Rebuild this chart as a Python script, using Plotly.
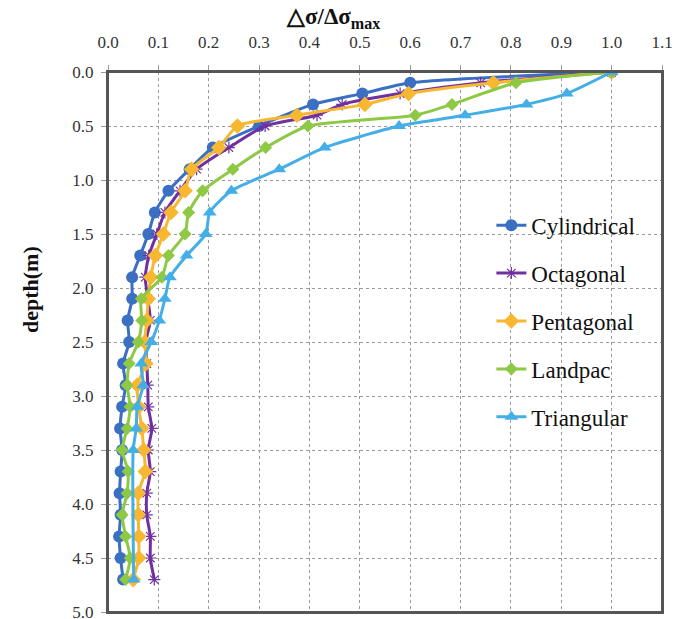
import plotly.graph_objects as go

depth = [0.0, 0.1, 0.2, 0.3, 0.4, 0.5, 0.7, 0.9, 1.1, 1.3, 1.5, 1.7, 1.9, 2.1,
         2.3, 2.5, 2.7, 2.9, 3.1, 3.3, 3.5, 3.7, 3.9, 4.1, 4.3, 4.5, 4.7]

cylindrical = [1.0, 0.60, 0.505, 0.407, None, 0.30, 0.208, 0.162, 0.12, 0.093, 0.08,
               0.064, 0.048, 0.048, 0.039, 0.042, 0.030, 0.035, 0.028, 0.024, 0.028,
               0.025, 0.023, 0.025, 0.022, 0.025, 0.030]
octagonal = [1.0, 0.74, 0.58, 0.465, 0.415, 0.312, 0.24, 0.176, 0.143, 0.113, 0.097,
             0.081, 0.074, 0.079, 0.084, 0.075, 0.077, 0.079, 0.080, 0.087, 0.080,
             0.084, 0.077, 0.077, 0.084, 0.084, 0.092]
pentagonal = [1.0, 0.765, 0.597, 0.51, 0.375, 0.257, 0.22, 0.166, 0.153, 0.125, 0.11,
              0.094, 0.085, 0.08, 0.077, 0.073, 0.075, 0.058, 0.061, 0.067, 0.071,
              0.074, 0.060, 0.060, 0.061, 0.061, 0.050]
landpac = [1.0, 0.81, None, 0.683, 0.61, 0.397, 0.313, 0.248, 0.188, 0.16, 0.153,
           0.12, 0.107, 0.066, 0.067, 0.06, 0.042, 0.038, 0.044, 0.038, 0.028,
           0.040, 0.038, 0.028, 0.035, 0.044, 0.035]
triangular = [1.0, None, 0.911, 0.831, 0.709, 0.578, 0.43, 0.34, 0.245, 0.202, 0.194,
              0.156, 0.123, 0.113, 0.102, 0.086, 0.066, 0.07, 0.058, 0.056, 0.05,
              None, None, None, None, None, 0.051]

x_ticks = [0.0, 0.1, 0.2, 0.3, 0.4, 0.5, 0.6, 0.7, 0.8, 0.9, 1.0, 1.1]
y_ticks = [0.0, 0.5, 1.0, 1.5, 2.0, 2.5, 3.0, 3.5, 4.0, 4.5, 5.0]

x_title = "<b>△σ/Δσ<sub>max</sub></b>"
y_title = "<b>depth(m)</b>"

series = [
    ("Cylindrical", cylindrical, "#3a6fc2", dict(symbol="circle", size=12, color="#3a6fc2")),
    ("Octagonal", octagonal, "#7030a0", dict(symbol="asterisk-open", size=10,
                                              line=dict(color="#a98bd6", width=1.2))),
    ("Pentagonal", pentagonal, "#f7b731", dict(symbol="diamond", size=12, color="#f7b731")),
    ("Landpac", landpac, "#8dc944", dict(symbol="diamond", size=10, color="#8dc944")),
    ("Triangular", triangular, "#44aee6", dict(symbol="triangle-up", size=12, color="#44aee6")),
]

fig = go.Figure()
for name, vals, col, mk in series:
    fig.add_trace(go.Scatter(
        x=vals, y=depth, name=name, mode="lines+markers",
        line=dict(color=col, width=3, shape="spline", smoothing=0.6),
        marker=mk, connectgaps=True, legendgroup=name,
    ))

serif = "Liberation Serif"
fig.update_layout(
    width=684, height=619,
    margin=dict(l=108, r=22, t=72, b=7, autoexpand=False),
    paper_bgcolor="white", plot_bgcolor="white",
    font=dict(family=serif, color="#222"),
    showlegend=True,
    legend=dict(x=0.692, y=0.756, xanchor="left", yanchor="top",
                bgcolor="rgba(0,0,0,0)", font=dict(family=serif, size=23, color="#111"),
                tracegroupgap=15),
    xaxis=dict(
        side="top", range=[0, 1.1], tickvals=x_ticks, tickformat=".1f",
        showgrid=True, gridcolor="#9a9a9a", griddash="dot", gridwidth=1,
        showline=True, linecolor="#555", linewidth=2, mirror=True,
        ticks="outside", ticklen=5, tickcolor="#999",
        tickfont=dict(family=serif, size=17, color="#333"),
        ticklabelstandoff=10, zeroline=False, ticklabeloverflow="allow", automargin=False,
    ),
    yaxis=dict(
        range=[5.0, 0], tickvals=y_ticks, tickformat=".1f",
        showgrid=True, gridcolor="#9a9a9a", griddash="dot", gridwidth=1,
        showline=True, linecolor="#555", linewidth=2, mirror=True,
        ticks="outside", ticklen=5, tickcolor="#999",
        tickfont=dict(family=serif, size=17, color="#333"),
        ticklabelstandoff=4, zeroline=False, ticklabeloverflow="allow", automargin=False,
    ),
    shapes=[dict(type="rect", xref="paper", yref="paper", x0=0, x1=1, y0=0, y1=1,
                 line=dict(color="#555", width=2), layer="above")],
    annotations=[
        dict(text=x_title, xref="paper", yref="paper", x=(333 - 108) / 554, y=1 + (72 - 18) / 540,
             xanchor="center", yanchor="middle", showarrow=False,
             font=dict(family=serif, size=23, color="#111")),
        dict(text=y_title, xref="paper", yref="paper", x=-(108 - 30) / 554, y=1 - (290 - 72) / 540,
             xanchor="center", yanchor="middle", showarrow=False, textangle=-90,
             font=dict(family=serif, size=22, color="#111")),
    ],
)

fig.write_html("out.html")
